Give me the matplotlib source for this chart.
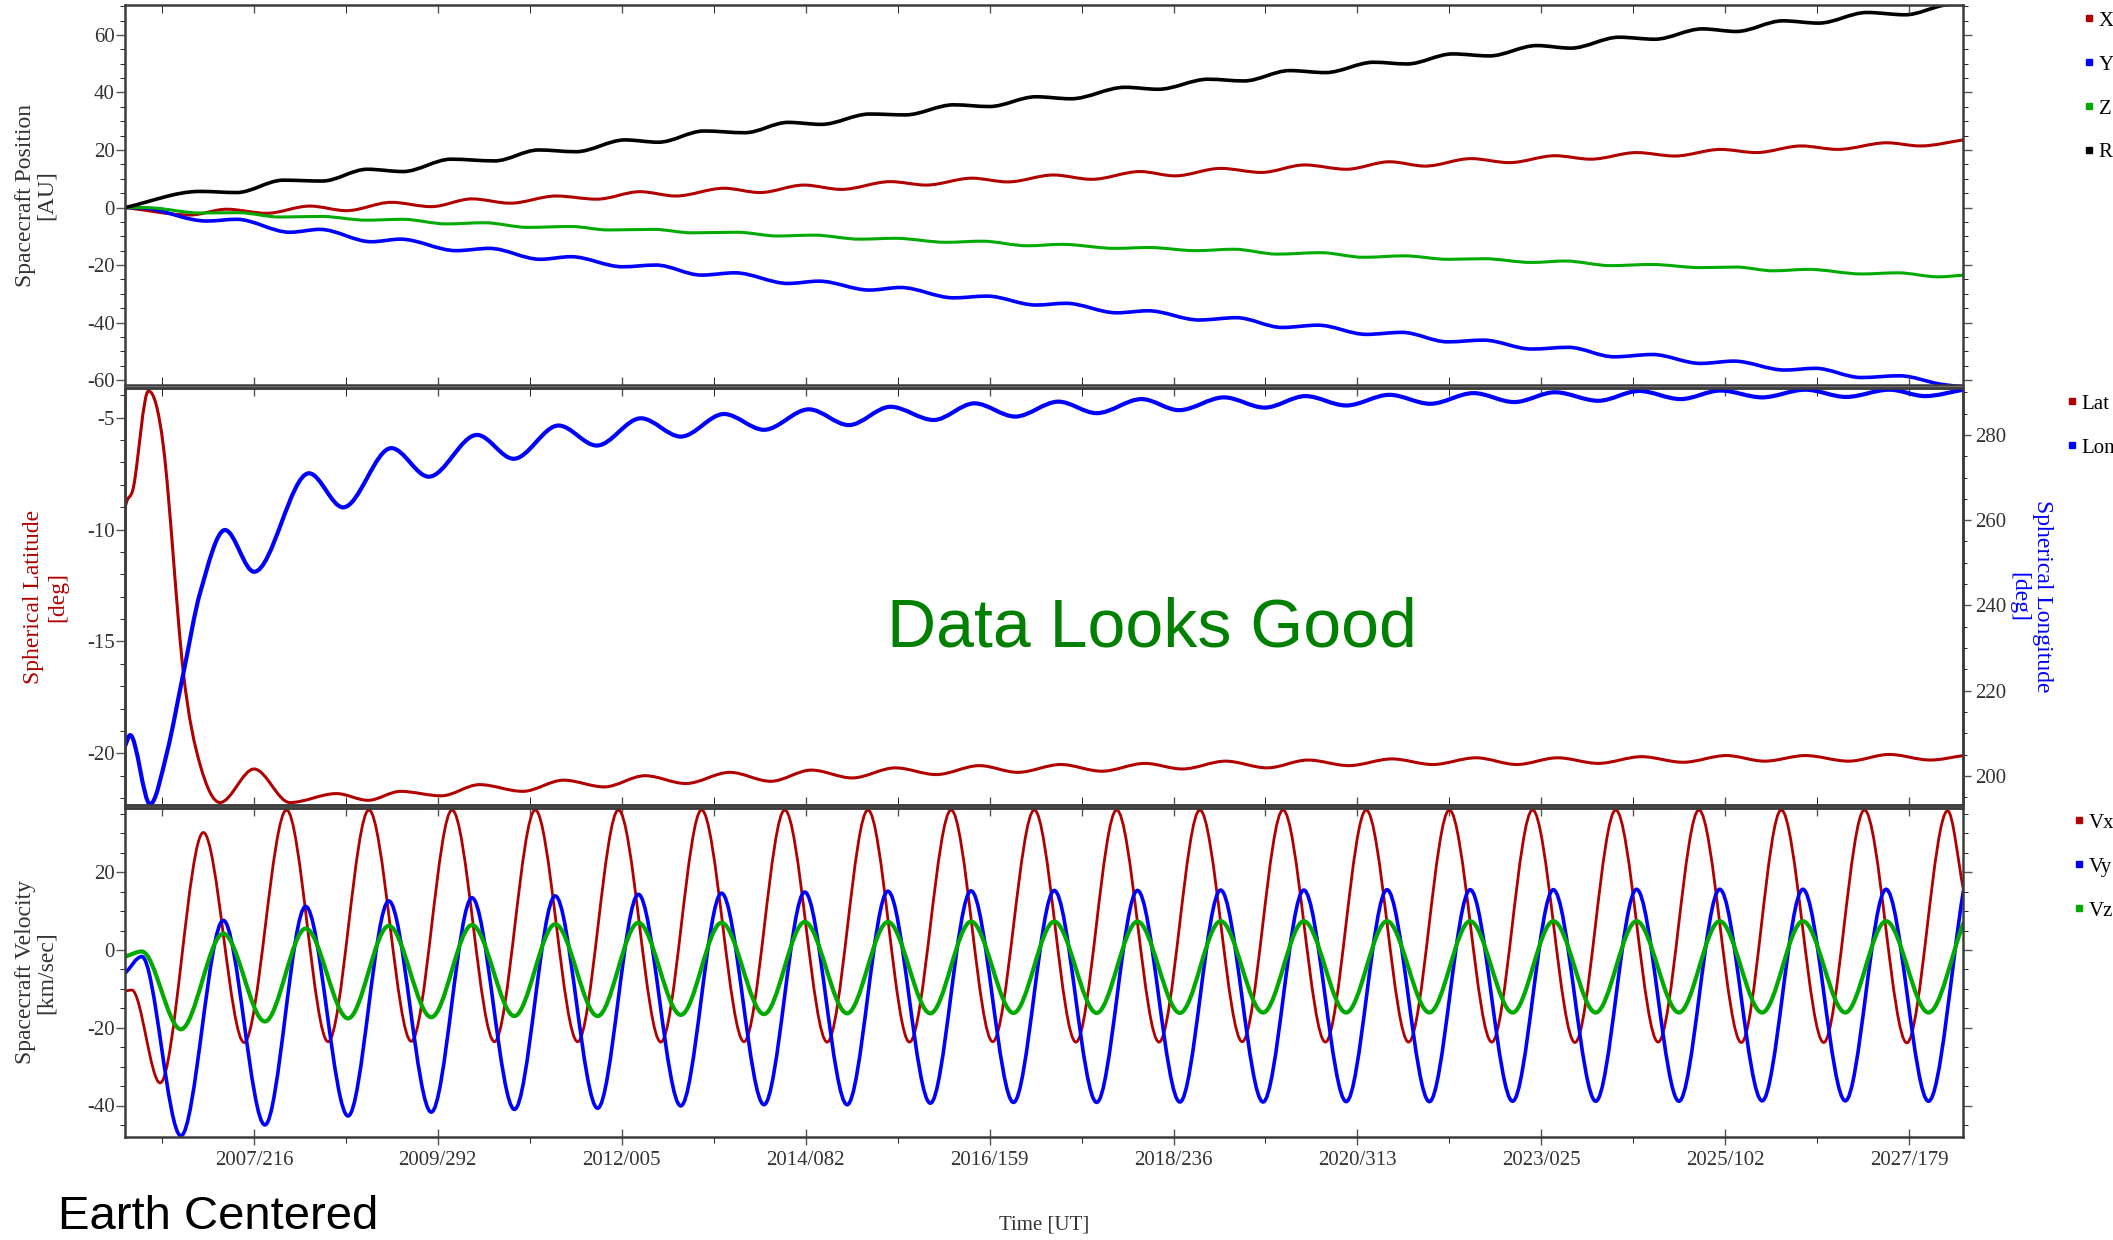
import numpy as np
import matplotlib
matplotlib.use('Agg')
import matplotlib.pyplot as plt
from matplotlib.path import Path
from matplotlib.patches import PathPatch
from matplotlib.lines import Line2D
from matplotlib.ticker import MultipleLocator, FixedLocator

plt.rcParams['font.family'] = ['Liberation Serif', 'DejaVu Serif']
plt.rcParams['axes.unicode_minus'] = False

# ---- data (time in decimal years) ----
tick_labels = ['2007/216', '2009/292', '2012/005', '2014/082', '2016/159',
               '2018/236', '2020/313', '2023/025', '2025/102', '2027/179']

# spacecraft position [AU]
pos_x_t = [2006.04, 2006.82, 2007.26, 2007.74, 2008.26, 2008.70, 2009.24, 2009.72, 2010.21, 2010.67,
           2011.22, 2011.71, 2012.23, 2012.66, 2013.24, 2013.67, 2014.20, 2014.65, 2015.24, 2015.67,
           2016.22, 2016.65, 2017.20, 2017.66, 2018.24, 2018.66, 2019.21, 2019.70, 2020.22, 2020.72,
           2021.24, 2021.67, 2022.22, 2022.68, 2023.23, 2023.66, 2024.21, 2024.67, 2025.22, 2025.65,
           2026.19, 2026.63, 2027.22, 2027.62, 2028.14]
pos_x = [0.0, -2.6, -0.6, -2.0, 0.5, -1.1, 1.8, 0.3, 3.0, 1.5,
         4.0, 2.9, 5.5, 4.0, 6.7, 5.2, 7.8, 6.3, 9.0, 7.8,
         10.2, 8.9, 11.3, 9.8, 12.5, 11.0, 13.6, 12.2, 14.8, 13.3,
         15.9, 14.4, 17.0, 15.6, 18.0, 16.8, 19.1, 17.9, 20.2, 19.1,
         21.4, 20.2, 22.5, 21.4, 23.5]

pos_y_t = [2006.04, 2006.34, 2007.02, 2007.38, 2008.02, 2008.38, 2009.00, 2009.35, 2010.02, 2010.42,
           2011.03, 2011.40, 2012.02, 2012.42, 2012.97, 2013.37, 2014.01, 2014.38, 2014.99, 2015.36,
           2016.00, 2016.40, 2016.99, 2017.35, 2017.96, 2018.34, 2018.95, 2019.40, 2019.95, 2020.38,
           2020.96, 2021.39, 2021.94, 2022.37, 2022.95, 2023.39, 2023.94, 2024.40, 2024.98, 2025.38,
           2025.99, 2026.36, 2026.91, 2027.37, 2027.86, 2028.14]
pos_y = [0.0, -0.4, -4.7, -4.1, -8.6, -7.6, -11.9, -11.0, -15.0, -14.2,
         -18.0, -17.1, -20.6, -20.0, -23.5, -22.7, -26.4, -25.6, -28.7, -27.8,
         -31.4, -30.8, -33.9, -33.3, -36.6, -35.9, -39.1, -38.3, -41.7, -40.9,
         -44.1, -43.4, -46.7, -46.1, -49.2, -48.6, -51.9, -51.1, -54.2, -53.4,
         -56.5, -55.9, -59.1, -58.5, -61.4, -62.3]

pos_z_t = [2006.04, 2006.40, 2006.94, 2007.40, 2007.90, 2008.40, 2008.94, 2009.38, 2009.90, 2010.36,
           2010.88, 2011.40, 2011.85, 2012.40, 2012.85, 2013.40, 2013.88, 2014.32, 2014.87, 2015.30,
           2015.91, 2016.34, 2016.89, 2017.30, 2017.94, 2018.35, 2018.91, 2019.37, 2019.89, 2020.41,
           2020.93, 2021.42, 2021.94, 2022.38, 2022.95, 2023.35, 2023.90, 2024.39, 2024.98, 2025.41,
           2025.85, 2026.28, 2026.92, 2027.35, 2027.84, 2028.14]
pos_z = [0.0, -0.2, -1.9, -1.8, -3.3, -3.1, -4.4, -4.1, -5.7, -5.3,
         -6.9, -6.6, -7.8, -7.6, -8.8, -8.6, -9.9, -9.6, -11.0, -10.7,
         -12.1, -11.7, -13.3, -12.8, -14.2, -13.9, -15.0, -14.5, -16.2, -15.7,
         -17.3, -16.8, -18.0, -17.8, -19.1, -18.6, -20.2, -19.8, -20.9, -20.7,
         -22.0, -21.5, -23.1, -22.7, -24.1, -23.5]

pos_r_t = [2006.04, 2006.94, 2007.38, 2007.94, 2008.41, 2008.95, 2009.38, 2009.96, 2010.48, 2011.01,
           2011.46, 2012.05, 2012.45, 2013.00, 2013.49, 2014.01, 2014.41, 2014.99, 2015.42, 2016.00,
           2016.43, 2016.99, 2017.41, 2018.06, 2018.46, 2019.06, 2019.49, 2020.04, 2020.47, 2021.05,
           2021.45, 2022.00, 2022.44, 2023.01, 2023.42, 2024.00, 2024.43, 2025.00, 2025.41, 2025.97,
           2026.40, 2026.98, 2027.44, 2027.90, 2028.14]
pos_r = [0.0, 5.6, 5.2, 9.5, 9.2, 13.3, 12.5, 16.8, 16.2, 20.0,
         19.4, 23.5, 22.7, 26.6, 26.0, 29.6, 28.9, 32.5, 32.2, 35.7,
         35.1, 38.5, 37.8, 41.8, 41.1, 44.6, 44.0, 47.6, 46.9, 50.5,
         49.9, 53.4, 52.7, 56.3, 55.4, 59.2, 58.5, 62.1, 61.2, 64.9,
         64.1, 67.8, 67.0, 70.3, 70.6]

# spherical latitude / longitude [deg]
lat_t = [2006.038, 2006.041, 2006.14, 2006.32, 2006.50, 2006.74, 2006.94, 2007.18, 2007.59, 2008.02,
         2008.58, 2008.96, 2009.35, 2009.84, 2010.30, 2010.82, 2011.31, 2011.80, 2012.29, 2012.78,
         2013.31, 2013.80, 2014.29, 2014.78, 2015.30, 2015.79, 2016.31, 2016.77, 2017.29, 2017.78,
         2018.30, 2018.75, 2019.27, 2019.77, 2020.26, 2020.75, 2021.27, 2021.76, 2022.28, 2022.77,
         2023.26, 2023.75, 2024.27, 2024.77, 2025.29, 2025.75, 2026.24, 2026.76, 2027.25, 2027.74,
         2028.14]
lat = [-10.1, -9.0, -8.1, -3.8, -6.3, -16.4, -20.5, -22.2, -20.7, -22.2,
       -21.8, -22.1, -21.7, -21.9, -21.4, -21.7, -21.2, -21.5, -21.0, -21.35,
       -20.85, -21.25, -20.75, -21.1, -20.65, -20.95, -20.55, -20.85, -20.5, -20.8,
       -20.45, -20.7, -20.35, -20.65, -20.3, -20.55, -20.25, -20.5, -20.2, -20.5,
       -20.2, -20.45, -20.15, -20.4, -20.1, -20.35, -20.1, -20.35, -20.05, -20.3,
       -20.1]

lon_t = [2006.038, 2006.10, 2006.34, 2006.54, 2006.74, 2006.94, 2007.24, 2007.59, 2008.25, 2008.66,
         2009.24, 2009.69, 2010.27, 2010.71, 2011.25, 2011.71, 2012.24, 2012.72, 2013.24, 2013.72,
         2014.26, 2014.74, 2015.24, 2015.76, 2016.25, 2016.74, 2017.26, 2017.72, 2018.26, 2018.71,
         2019.25, 2019.74, 2020.23, 2020.72, 2021.24, 2021.73, 2022.25, 2022.74, 2023.23, 2023.75,
         2024.24, 2024.74, 2025.22, 2025.72, 2026.24, 2026.73, 2027.25, 2027.68, 2028.14]
lon = [207.0, 209.6, 193.4, 205.3, 224.1, 242.9, 257.7, 247.9, 271.0, 263.0,
       276.9, 270.2, 280.0, 274.4, 282.2, 277.5, 283.9, 279.6, 284.9, 281.2,
       286.0, 282.3, 286.6, 283.5, 287.4, 284.3, 287.8, 285.1, 288.4, 285.8,
       288.8, 286.4, 289.1, 286.9, 289.4, 287.3, 289.8, 287.7, 290.0, 288.0,
       290.3, 288.4, 290.4, 288.8, 290.6, 288.9, 290.6, 289.1, 290.6]

# spacecraft velocity [km/sec]
vx_t = [2006.04, 2006.12, 2006.46, 2006.98, 2007.47, 2007.98, 2008.48, 2008.97, 2009.48, 2009.97,
        2010.48, 2010.97, 2011.48, 2011.97, 2012.48, 2012.97, 2013.48, 2013.97, 2014.48, 2014.97,
        2015.47, 2015.97, 2016.47, 2016.97, 2017.47, 2017.96, 2018.47, 2018.96, 2019.47, 2019.96,
        2020.47, 2020.96, 2021.47, 2021.96, 2022.47, 2022.96, 2023.47, 2023.96, 2024.47, 2024.96,
        2025.47, 2025.95, 2026.46, 2026.95, 2027.46, 2027.95, 2028.14]
vx = [-10.6, -10.3, -34.2, 30.2, -23.8, 36.0, -23.6, 36.0, -23.5, 36.0,
      -23.6, 36.0, -23.6, 36.0, -23.7, 36.0, -23.6, 36.0, -23.7, 36.0,
      -23.7, 36.0, -23.6, 36.0, -23.7, 36.0, -23.7, 36.0, -23.6, 36.0,
      -23.7, 36.0, -23.7, 36.0, -23.7, 36.0, -23.8, 36.0, -23.7, 36.0,
      -23.8, 36.0, -23.8, 36.0, -23.9, 35.8, 15.5]

vyz_t = [2006.04, 2006.24, 2006.71, 2007.22, 2007.72, 2008.21, 2008.72, 2009.21, 2009.72, 2010.21,
         2010.72, 2011.21, 2011.72, 2012.21, 2012.72, 2013.21, 2013.72, 2014.21, 2014.72, 2015.21,
         2015.72, 2016.21, 2016.72, 2017.21, 2017.72, 2018.21, 2018.72, 2019.21, 2019.72, 2020.21,
         2020.72, 2021.21, 2021.72, 2022.21, 2022.72, 2023.21, 2023.72, 2024.21, 2024.72, 2025.21,
         2025.72, 2026.21, 2026.72, 2027.21, 2027.72, 2028.14]
vy = [-6.0, -1.7, -47.8, 7.6, -45.0, 11.2, -42.7, 12.6, -41.7, 13.4,
      -41.0, 13.9, -40.7, 14.3, -40.1, 14.6, -39.8, 14.9, -39.8, 15.1,
      -39.4, 15.2, -39.2, 15.3, -39.2, 15.3, -39.1, 15.4, -39.1, 15.4,
      -39.0, 15.5, -39.0, 15.5, -38.9, 15.5, -38.9, 15.6, -38.9, 15.6,
      -38.8, 15.6, -38.8, 15.6, -38.9, 15.2]
vz = [-1.7, -0.4, -20.4, 4.2, -18.4, 5.5, -17.6, 6.2, -17.3, 6.4,
      -17.0, 6.6, -17.0, 7.0, -16.7, 7.0, -16.5, 7.2, -16.3, 7.2,
      -16.3, 7.3, -16.2, 7.3, -16.2, 7.3, -16.2, 7.4, -16.1, 7.4,
      -16.1, 7.4, -16.1, 7.4, -16.1, 7.4, -16.1, 7.4, -16.1, 7.4,
      -16.1, 7.4, -16.1, 7.4, -16.1, 6.9]

RED = '#b00000'
BLUE = '#0000ff'
GREEN = '#00aa00'
SPINE = '#3c3c3c'
TXT = '#333333'
W, H = 2113, 1240


def doy_year(s):
    y, d = s.split('/')
    y, d = int(y), int(d)
    ndays = 366 if (y % 4 == 0 and (y % 100 != 0 or y % 400 == 0)) else 365
    return y + (d - 1) / ndays


def smooth_line(ax, t, v, color, lw):
    # smooth curve through the read points (flat at the turning points)
    t = np.asarray(t, float)
    v = np.asarray(v, float)
    assert len(t) == len(v)
    n = len(t)
    m = np.zeros(n)
    m[0] = (v[1] - v[0]) / (t[1] - t[0])
    m[-1] = (v[-1] - v[-2]) / (t[-1] - t[-2])
    for i in range(1, n - 1):
        if (v[i] - v[i - 1]) * (v[i + 1] - v[i]) > 0:
            m[i] = (v[i + 1] - v[i - 1]) / (t[i + 1] - t[i - 1])
    verts = [(t[0], v[0])]
    codes = [Path.MOVETO]
    for i in range(n - 1):
        h = (t[i + 1] - t[i]) / 3
        verts += [(t[i] + h, v[i] + m[i] * h),
                  (t[i + 1] - h, v[i + 1] - m[i + 1] * h),
                  (t[i + 1], v[i + 1])]
        codes += [Path.CURVE4] * 3
    ax.add_patch(PathPatch(Path(verts, codes), fill=False, edgecolor=color,
                           lw=lw, joinstyle='round', capstyle='round'))


def style_frame(ax):
    for sp in ax.spines.values():
        sp.set_color(SPINE)
        sp.set_linewidth(1.8)
    ax.tick_params(colors='#555555', labelcolor=TXT, width=1.0, labelsize=15)


def side_legend(ax, labels, colors, x_px, y_px):
    handles = [Line2D([], [], ls='none', marker='s', markersize=4.3, color=c) for c in colors]
    ax.legend(handles, labels, loc='upper left', bbox_to_anchor=(x_px / W, 1 - y_px / H),
              bbox_transform=fig.transFigure, frameon=False, borderpad=0, borderaxespad=0,
              handlelength=0.4, handletextpad=0.25, labelspacing=1.17, fontsize=15)


xmin, xmax = 2006.038, 2028.135
major_pos = [doy_year(s) for s in tick_labels]
step = np.mean(np.diff(major_pos))
minor_pos = [major_pos[0] - step / 2] + [(a + b) / 2 for a, b in zip(major_pos[:-1], major_pos[1:])]

fig = plt.figure(figsize=(W / 100, H / 100), dpi=100)
left, width = 125 / W, 1838 / W
ax_pos = fig.add_axes([left, 1 - 385 / H, width, 380 / H])
ax_lat = fig.add_axes([left, 1 - 805 / H, width, 417 / H])
ax_vel = fig.add_axes([left, 1 - 1137 / H, width, 329 / H])
ax_lon = ax_lat.twinx()

# ---- position panel ----
smooth_line(ax_pos, pos_x_t, pos_x, RED, 2.2)
smooth_line(ax_pos, pos_y_t, pos_y, BLUE, 2.6)
smooth_line(ax_pos, pos_z_t, pos_z, GREEN, 2.2)
smooth_line(ax_pos, pos_r_t, pos_r, 'black', 2.6)
ax_pos.set_ylim(-61.7, 70.4)
ax_pos.yaxis.set_major_locator(MultipleLocator(20))
ax_pos.yaxis.set_minor_locator(MultipleLocator(5))
ax_pos.set_ylabel('Spacecraft Position\n[AU]', fontsize=17, color=TXT, linespacing=1.0)
ax_pos.yaxis.set_label_coords(-0.037, 0.5)

# ---- latitude / longitude panel ----
smooth_line(ax_lat, lat_t, lat, RED, 2.2)
smooth_line(ax_lon, lon_t, lon, BLUE, 3.0)
ax_lat.set_ylim(-22.31, -3.67)
ax_lat.yaxis.set_major_locator(MultipleLocator(5))
ax_lat.yaxis.set_minor_locator(MultipleLocator(1))
ax_lon.set_ylim(193.2, 291.0)
ax_lon.yaxis.set_major_locator(MultipleLocator(20))
ax_lon.yaxis.set_minor_locator(MultipleLocator(5))
ax_lat.set_ylabel('Spherical Latitude\n[deg]', fontsize=17, color=RED, linespacing=1.2)
ax_lat.yaxis.set_label_coords(-0.031, 0.5)
ax_lon.set_ylabel('Spherical Longitude\n[deg]', fontsize=17, color=BLUE, rotation=270,
                  va='bottom', linespacing=1.2)
ax_lon.yaxis.set_label_coords(1.0245, 0.5)

# ---- velocity panel ----
smooth_line(ax_vel, vx_t, vx, RED, 2.0)
smooth_line(ax_vel, vyz_t, vy, BLUE, 2.6)
smooth_line(ax_vel, vyz_t, vz, GREEN, 3.0)
ax_vel.set_ylim(-48.1, 36.5)
ax_vel.yaxis.set_major_locator(MultipleLocator(20))
ax_vel.yaxis.set_minor_locator(MultipleLocator(5))
ax_vel.set_ylabel('Spacecraft Velocity\n[km/sec]', fontsize=17, color=TXT, linespacing=1.0)
ax_vel.yaxis.set_label_coords(-0.037, 0.5)

for ax in (ax_pos, ax_lat, ax_lon, ax_vel):
    ax.set_xlim(xmin, xmax)
    style_frame(ax)

for ax in (ax_pos, ax_lat, ax_vel):
    ax.set_xticks(major_pos)
    ax.xaxis.set_minor_locator(FixedLocator(minor_pos))

# y ticks
for ax in (ax_pos, ax_vel):
    ax.tick_params(axis='y', which='both', direction='out', left=True, right=True, pad=1)
    ax.tick_params(axis='y', which='major', length=6.5)
    ax.tick_params(axis='y', which='minor', length=3.5)
ax_lat.tick_params(axis='y', which='both', direction='out', left=True, right=False, pad=1)
ax_lat.tick_params(axis='y', which='major', length=6.5)
ax_lat.tick_params(axis='y', which='minor', length=3.5)
ax_lon.tick_params(axis='y', which='both', direction='out', left=False, right=True, pad=3)
ax_lon.tick_params(axis='y', which='major', length=5.5)
ax_lon.tick_params(axis='y', which='minor', length=3.0)

# x ticks
for ax in (ax_pos, ax_lat):
    ax.tick_params(axis='x', which='both', direction='in', top=True, bottom=True,
                   length=5.8, labelbottom=False)
ax_vel.set_xticklabels(tick_labels)
ax_vel.tick_params(axis='x', which='major', direction='inout', length=12, top=False, pad=4)
ax_vel.tick_params(axis='x', which='minor', direction='out', length=4.3, top=False)
sec = ax_vel.secondary_xaxis('top')
sec.set_xticks(major_pos)
sec.xaxis.set_minor_locator(FixedLocator(minor_pos))
sec.tick_params(axis='x', which='both', direction='in', length=5.8, labeltop=False,
                colors='#555555', width=1.0)
sec.spines['top'].set_color(SPINE)
sec.spines['top'].set_linewidth(1.8)

# legends at the right edge
side_legend(ax_pos, ['X', 'Y', 'Z', 'R'], [RED, BLUE, GREEN, 'black'], 2085, 11)
side_legend(ax_lon, ['Lat', 'Lon'], [RED, BLUE], 2068, 394)
side_legend(ax_vel, ['Vx', 'Vy', 'Vz'], [RED, BLUE, GREEN], 2075, 813)

# texts
fig.text(1044 / W, 1 - 1225 / H, 'Time [UT]', ha='center', va='center', fontsize=15, color=TXT)
fig.text(1152 / W, 1 - 646.7 / H, 'Data Looks Good', ha='center', va='baseline',
         fontsize=49, color='#008000', family=['Liberation Sans', 'DejaVu Sans'])
fig.text(58 / W, 1 - 1229 / H, 'Earth Centered', ha='left', va='baseline',
         fontsize=34, color='black', family=['Liberation Sans', 'DejaVu Sans'])

fig.savefig('out.png', dpi=100)
